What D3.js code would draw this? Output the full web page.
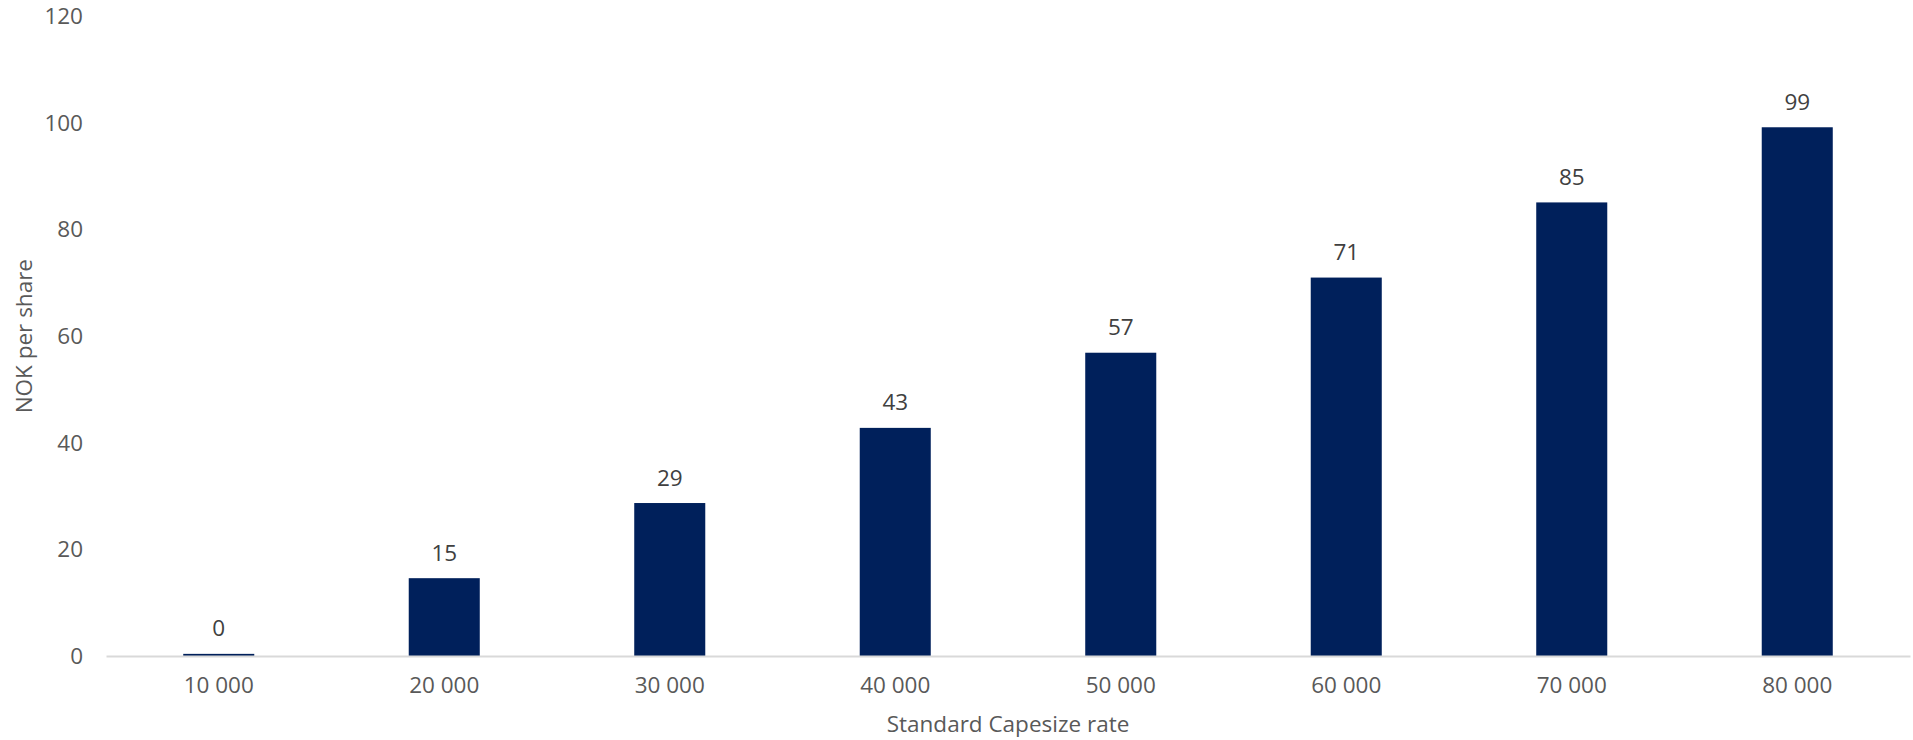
<!DOCTYPE html>
<html>
<head>
<meta charset="utf-8">
<script src="https://cdn.jsdelivr.net/npm/d3@7"></script>
<style>
  html, body { margin: 0; padding: 0; background: #ffffff; }
  svg { display: block; }
  text { font-family: "Open Sans", "Noto Sans", sans-serif; }
</style>
</head>
<body>
<svg id="chart" width="1913" height="740"></svg>
<script>
// Capesize rate scenarios (USD/day) and resulting value per share (NOK)
const categories = ["10 000", "20 000", "30 000", "40 000", "50 000", "60 000", "70 000", "80 000"];
const values = [0.4, 14.6, 28.7, 42.8, 56.9, 71.0, 85.1, 99.2];
const yTicks = [0, 20, 40, 60, 80, 100, 120];
const xTitle = "Standard Capesize rate";
const yTitle = "NOK per share";

const svg = d3.select("#chart");
const margin = { top: 16.4, right: 3, bottom: 84, left: 106 };
const width = 1913 - margin.left - margin.right;
const height = 740 - margin.top - margin.bottom;
const fontSize = 22.5;

const g = svg.append("g").attr("transform", `translate(${margin.left},${margin.top})`);

const x = d3.scaleBand().domain(categories).range([0, width]).paddingInner(0.685).paddingOuter(0.3425);
const y = d3.scaleLinear().domain([0, 120]).range([height, 0]);

// bars
g.selectAll("rect.bar")
  .data(values)
  .join("rect")
  .attr("class", "bar")
  .attr("x", (d, i) => x(categories[i]))
  .attr("width", x.bandwidth())
  .attr("y", d => y(d))
  .attr("height", d => y(0) - y(d))
  .attr("fill", "#00205b");

// value labels above bars
g.selectAll("text.val")
  .data(values)
  .join("text")
  .attr("class", "val")
  .attr("x", (d, i) => x(categories[i]) + x.bandwidth() / 2)
  .attr("y", d => y(d) - 17.5)
  .attr("text-anchor", "middle")
  .attr("font-size", fontSize)
  .attr("fill", "#404040")
  .text(d => Math.round(d));

// x axis (baseline + category labels)
const xAxis = g.append("g")
  .attr("transform", `translate(0,${height})`)
  .call(d3.axisBottom(x).tickSize(0).tickPadding(21));
xAxis.select(".domain").attr("stroke", "#d9d9d9").attr("stroke-width", 2);
xAxis.selectAll("text").attr("font-size", fontSize).attr("fill", "#595959")
  .attr("font-family", "'Open Sans', 'Noto Sans', sans-serif");

// y axis (labels only)
const yAxis = g.append("g")
  .call(d3.axisLeft(y).tickValues(yTicks).tickSize(0).tickPadding(23));
yAxis.select(".domain").remove();
yAxis.selectAll("text").attr("font-size", fontSize).attr("fill", "#595959")
  .attr("font-family", "'Open Sans', 'Noto Sans', sans-serif");

// axis titles
svg.append("text")
  .attr("x", margin.left + width / 2)
  .attr("y", 732)
  .attr("text-anchor", "middle")
  .attr("font-size", fontSize)
  .attr("fill", "#595959")
  .text(xTitle);

svg.append("text")
  .attr("transform", `translate(32,${margin.top + height / 2}) rotate(-90)`)
  .attr("text-anchor", "middle")
  .attr("font-size", fontSize)
  .attr("fill", "#595959")
  .text(yTitle);
</script>
</body>
</html>
